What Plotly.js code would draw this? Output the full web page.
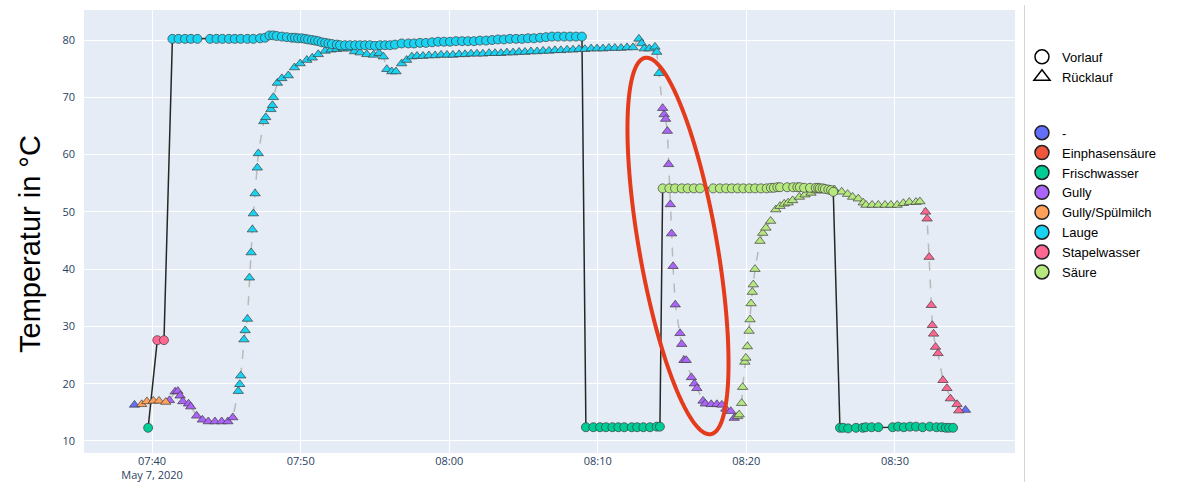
<!DOCTYPE html>
<html><head><meta charset="utf-8">
<script src="https://cdn.plot.ly/plotly-3.0.1.min.js"></script>
<style>
html,body{margin:0;padding:0;background:#fff;}
#chart{width:1178px;height:482px;position:relative;}
#sep{position:absolute;left:1024px;top:5px;width:1px;height:477px;background:#d4d4d4;}
</style>
</head><body>
<div id="chart"></div><div id="sep"></div>
<script>
// ---------- DATA ----------
const programs = ["-", "Einphasensäure", "Frischwasser", "Gully", "Gully/Spülmilch", "Lauge", "Stapelwasser", "Säure"];
const programColors = ["#636efa", "#EF553B", "#00cc96", "#ab63fa", "#FFA15A", "#19d3f3", "#FF6692", "#B6E880"];
const dayLabel = "2020-05-07";
const baseClock = "07:40:00";

// Vorlauf (supply): seconds after 07:40:00 and temperature
const vorSec = [-16, 21, 48,
  82, 107, 133, 157, 183, 234, 260, 284, 310, 334, 358, 385, 409,
  436, 456, 474, 489, 503, 524, 544, 564, 577, 590,
  604, 618, 630, 645, 658, 671, 685, 699, 712, 726,
  746, 759, 779, 799, 820, 840, 860, 880, 900, 921,
  941, 961, 981, 1008, 1035, 1058, 1082, 1106, 1131, 1155,
  1179, 1203, 1227, 1252, 1276, 1300, 1324, 1349, 1373, 1397,
  1421, 1445, 1470, 1494, 1518, 1542, 1567, 1591, 1615, 1639,
  1664, 1688, 1712, 1736,
  1752, 1782, 1809, 1833, 1859, 1883, 1907, 1937, 1959, 1984, 2011, 2038, 2051,
  2062, 2089, 2112, 2139, 2163, 2188, 2213, 2266, 2293, 2318, 2341, 2365, 2388, 2412, 2435, 2459, 2482,
  2499, 2511, 2525, 2536, 2565, 2589, 2606, 2616, 2633, 2657, 2680, 2690, 2697, 2708, 2717, 2731, 2742, 2751,
  2778, 2791, 2811, 2843, 2870, 2882, 2906, 2933, 2991, 3013, 3036, 3061, 3085, 3112, 3141, 3168, 3189, 3206, 3219, 3235];
const vorTemp = [12.3, 27.6, 27.6,
  80.2, 80.2, 80.2, 80.2, 80.2, 80.2, 80.2, 80.2, 80.2, 80.2, 80.2, 80.2, 80.2,
  80.3, 80.4, 80.8, 80.8, 80.7, 80.6, 80.5, 80.4, 80.4, 80.3,
  80.3, 80.2, 80.1, 80.0, 79.9, 79.8, 79.6, 79.5, 79.4, 79.3,
  79.2, 79.1, 79.1, 79.1, 79.1, 79.1, 79.1, 79.1, 79.0, 79.1,
  79.1, 79.1, 79.2, 79.4, 79.4, 79.4, 79.5, 79.5, 79.6, 79.7,
  79.7, 79.7, 79.8, 79.8, 79.8, 79.8, 79.9, 79.9, 80.0, 80.1,
  80.1, 80.2, 80.2, 80.2, 80.3, 80.3, 80.4, 80.5, 80.6, 80.6,
  80.6, 80.6, 80.6, 80.6,
  12.4, 12.4, 12.4, 12.4, 12.4, 12.4, 12.4, 12.4, 12.4, 12.4, 12.4, 12.5, 12.5,
  54.1, 54.1, 54.1, 54.1, 54.1, 54.1, 54.1, 54.1, 54.1, 54.1, 54.1, 54.1, 54.1, 54.1, 54.1, 54.1, 54.1,
  54.2, 54.2, 54.3, 54.3, 54.3, 54.3, 54.3, 54.3, 54.2, 54.2, 54.2, 54.2, 54.1, 54.1, 54.0, 53.9, 53.8, 53.5,
  12.3, 12.3, 12.2, 12.3, 12.3, 12.4, 12.4, 12.4, 12.4, 12.5, 12.4, 12.5, 12.5, 12.4, 12.5, 12.4, 12.4, 12.3, 12.3, 12.3];
// program schedule for Vorlauf: [start second, program]
const vorSchedule = [[-16, "Frischwasser"], [21, "Stapelwasser"], [82, "Lauge"], [1752, "Frischwasser"], [2062, "Säure"], [2778, "Frischwasser"]];

// Rücklauf (return): seconds after 07:40:00 and temperature
const rueSec = [-71,
  -42, -21, 5, 28, 55,
  70, 93, 104, 113, 124, 147, 156, 180, 203, 227, 254, 281, 306, 326,
  348, 354, 358, 371, 376, 385, 393, 400, 405, 409, 416, 425, 429, 451, 459, 480, 486, 490, 506, 524,
  550, 575, 598, 625, 647, 671, 699, 723, 746, 772, 793, 817, 840, 867, 894, 917, 934, 948, 968, 985,
  1008, 1028, 1049, 1070, 1094, 1118, 1143, 1167, 1191, 1215, 1240, 1264, 1288, 1312, 1336, 1361, 1385, 1409,
  1433, 1458, 1482, 1506, 1530, 1555, 1579, 1603, 1627, 1651, 1676, 1700, 1724, 1748, 1773, 1797, 1821,
  1845, 1869, 1894, 1918, 1942, 1966, 1977, 1987, 2008, 2031, 2038, 2047,
  2062, 2068, 2074, 2081, 2086, 2093, 2098, 2104, 2113, 2132, 2139, 2148, 2157, 2178, 2190, 2200,
  2225, 2234, 2258, 2281, 2301, 2317, 2337, 2351,
  2365, 2371, 2381, 2385, 2394, 2398, 2404, 2411, 2415, 2419, 2424, 2428, 2435, 2455, 2466, 2479, 2498,
  2519, 2536, 2553, 2569, 2587, 2614, 2637, 2661, 2684, 2711, 2731, 2755, 2785, 2809, 2829, 2852, 2872,
  2883, 2908, 2933, 2960, 2984, 3009, 3034, 3058, 3085, 3101,
  3124, 3130, 3138, 3147, 3151, 3156, 3164, 3174, 3194, 3210, 3224, 3251, 3258,
  3285];
const rueTemp = [16.3,
  16.4, 16.9, 17.0, 17.0, 16.8,
  17.1, 18.6, 18.7, 17.9, 16.9, 16.5, 16.0, 14.4, 13.7, 13.4, 13.4, 13.4, 13.4, 14.1,
  18.7, 19.9, 21.4, 27.7, 29.3, 31.3, 38.5, 42.9, 46.9, 49.7, 53.2, 57.7, 60.2, 65.8, 66.5, 67.9, 68.6, 70.0, 72.5, 73.3,
  73.8, 75.2, 75.9, 76.5, 76.9, 77.5, 78.1, 78.3, 78.4, 78.5, 78.5, 78.0, 77.8, 77.5, 77.4, 77.7, 77.1, 74.9, 74.5, 74.5,
  75.9, 76.5, 77.1, 77.2, 77.2, 77.3, 77.3, 77.4, 77.4, 77.4, 77.5, 77.5, 77.6, 77.6, 77.6, 77.7, 77.7, 77.7,
  77.8, 77.8, 77.9, 77.9, 78.0, 78.0, 78.1, 78.1, 78.2, 78.2, 78.3, 78.3, 78.4, 78.4, 78.5, 78.5, 78.5,
  78.6, 78.6, 78.6, 78.7, 78.7, 80.2, 79.4, 78.5, 78.5, 78.8, 77.9, 74.2,
  68.1, 67.0, 66.2, 64.1, 58.3, 51.3, 46.2, 40.5, 33.8, 28.8, 26.9, 24.1, 24.1, 21.1, 20.0, 19.2,
  17.0, 16.5, 16.4, 16.4, 16.3, 15.6, 15.2, 14.0,
  14.3, 14.6, 16.6, 19.4, 23.8, 24.5, 26.5, 29.2, 31.2, 34.0, 36.0, 37.3, 40.0, 44.9, 46.3, 47.2, 48.4,
  50.4, 51.0, 51.4, 51.6, 52.0, 52.6, 53.0, 53.3, 53.7, 53.8, 53.9, 53.9, 53.5, 53.1, 52.6, 52.3, 51.6,
  51.2, 51.2, 51.2, 51.2, 51.2, 51.2, 51.5, 51.7, 51.7, 51.8,
  50.0, 48.8, 42.1, 33.7, 30.2, 28.7, 26.4, 25.3, 20.6, 19.2, 17.4, 16.4, 15.3,
  15.4];
const rueSchedule = [[-71, "-"], [-42, "Gully/Spülmilch"], [70, "Gully"], [348, "Lauge"], [2062, "Gully"], [2365, "Säure"], [3124, "Stapelwasser"], [3285, "-"]];

// ---------- HELPERS ----------
function toDate(s) {
  const p = baseClock.split(":").map(Number);
  let t = p[0] * 3600 + p[1] * 60 + p[2] + s;
  const h = Math.floor(t / 3600), m = Math.floor((t % 3600) / 60), sec = t % 60;
  const pad = n => String(n).padStart(2, "0");
  return dayLabel + " " + pad(h) + ":" + pad(m) + ":" + pad(sec);
}
function progAt(schedule, s) {
  let p = schedule[0][1];
  for (const [st, name] of schedule) if (s >= st) p = name;
  return p;
}

// ---------- TRACES ----------
const traces = [];
const vorX = vorSec.map(toDate), rueX = rueSec.map(toDate);
const vorP = vorSec.map(s => progAt(vorSchedule, s));
const rueP = rueSec.map(s => progAt(rueSchedule, s));

traces.push({type: "scatter", mode: "lines", x: rueX, y: rueTemp, showlegend: false, hoverinfo: "skip",
  line: {color: "#b9b9b9", width: 1.5, dash: "dash"}});
traces.push({type: "scatter", mode: "lines", x: vorX, y: vorTemp, showlegend: false, hoverinfo: "skip",
  line: {color: "#262626", width: 1.5}});

programs.forEach((p, i) => {
  const xs = [], ys = [];
  rueP.forEach((q, k) => { if (q === p) { xs.push(rueX[k]); ys.push(rueTemp[k]); } });
  if (xs.length) traces.push({type: "scatter", mode: "markers", x: xs, y: ys, showlegend: false, name: p,
    marker: {symbol: "triangle-up", size: 9, color: programColors[i], line: {color: "#3c3c3c", width: 0.7}}});
});
programs.forEach((p, i) => {
  const xs = [], ys = [];
  vorP.forEach((q, k) => { if (q === p) { xs.push(vorX[k]); ys.push(vorTemp[k]); } });
  if (xs.length) traces.push({type: "scatter", mode: "markers", x: xs, y: ys, showlegend: false, name: p,
    marker: {symbol: "circle", size: 9, color: programColors[i], line: {color: "#3c3c3c", width: 0.7}}});
});

// legend entries
traces.push({type: "scatter", mode: "markers", x: [null], y: [null], name: "Vorlauf", legendgroup: "typ",
  marker: {symbol: "circle", size: 14, color: "#ffffff", line: {color: "#000", width: 1.5}}});
traces.push({type: "scatter", mode: "markers", x: [null], y: [null], name: "Rücklauf", legendgroup: "typ",
  marker: {symbol: "triangle-up", size: 14, color: "#ffffff", line: {color: "#000", width: 1.5}}});
programs.forEach((p, i) => {
  traces.push({type: "scatter", mode: "markers", x: [null], y: [null], name: p, legendgroup: "prog",
    marker: {symbol: "circle", size: 14, color: programColors[i], line: {color: "#222", width: 1.5}}});
});

// ---------- LAYOUT ----------
const M = {l: 84, r: 163, t: 10, b: 29};
const W = 1178, H = 482;
const pw = W - M.l - M.r, ph = H - M.t - M.b;
function ellipsePath(cx, cy, a, b, tiltDeg, n) {
  const th = tiltDeg * Math.PI / 180;
  const ux = Math.sin(th), uy = Math.cos(th);   // major axis direction (screen, y down)
  const vx = Math.cos(th), vy = -Math.sin(th);
  let d = "";
  for (let k = 0; k <= n; k++) {
    const t = 2 * Math.PI * k / n;
    const px = cx + a * Math.cos(t) * ux + b * Math.sin(t) * vx;
    const py = cy + a * Math.cos(t) * uy + b * Math.sin(t) * vy;
    const X = (px - M.l) / pw, Y = (H - M.b - py) / ph;
    d += (k === 0 ? "M" : "L") + X.toFixed(5) + "," + Y.toFixed(5);
  }
  return d + "Z";
}

const layout = {
  width: W, height: H,
  margin: M,
  paper_bgcolor: "#ffffff",
  plot_bgcolor: "#E5ECF6",
  font: {family: "'Open Sans', verdana, arial, sans-serif", size: 11, color: "#2a3f5f"},
  showlegend: true,
  legend: {x: 1.0075, xanchor: "left", y: 0.928, yanchor: "top", traceorder: "grouped", tracegroupgap: 36,
    font: {family: "'Liberation Sans', Arial, sans-serif", size: 13, color: "#000"}, bgcolor: "rgba(0,0,0,0)"},
  xaxis: {type: "date", range: [toDate(-275), toDate(3485)], dtick: 600000, tick0: toDate(0),
    gridcolor: "#ffffff", zeroline: false, showline: false, ticks: ""},
  yaxis: {range: [7.9, 85.24], dtick: 10, tick0: 0, gridcolor: "#ffffff", zeroline: false, showline: false,
    ticks: "", ticklabelstandoff: 8},
  annotations: [{text: "Temperatur in °C", xref: "paper", yref: "paper",
    x: (30 - M.l) / pw, y: (H - M.b - 244) / ph, xanchor: "center", yanchor: "middle",
    textangle: -90, showarrow: false, font: {family: "'Liberation Sans', Arial, sans-serif", size: 29, color: "#000"}}],
  shapes: [{type: "path", xref: "paper", yref: "paper", path: ellipsePath(678, 246, 191, 39, 9.9, 120),
    line: {color: "#e43b1c", width: 4}, fillcolor: "rgba(0,0,0,0)"}]
};

Plotly.newPlot("chart", traces, layout, {displayModeBar: false, staticPlot: true});
</script>
</body></html>
